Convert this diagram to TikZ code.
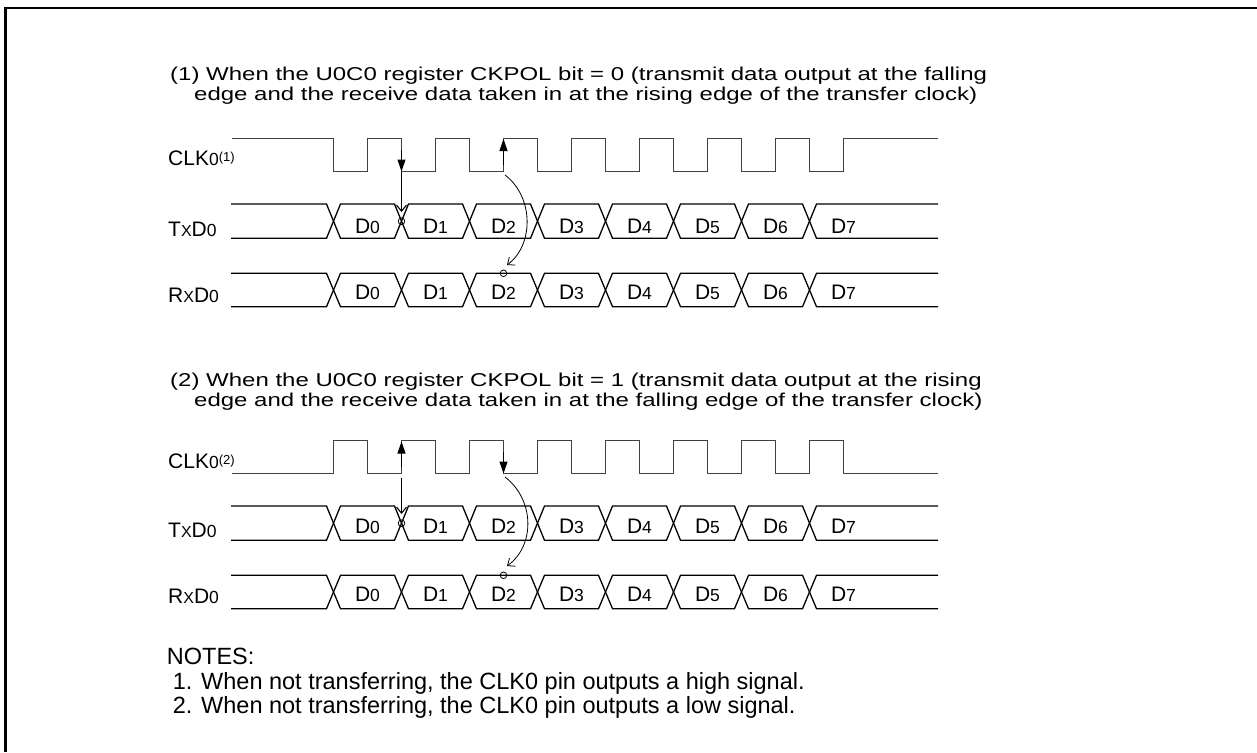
\documentclass[tikz,border=0pt]{standalone}
\usepackage{fontspec}
\setmainfont{Liberation Sans}
\usepackage{graphicx}
\usetikzlibrary{arrows.meta}
\newcommand{\myLf}{\fontsize{21pt}{21pt}\selectfont}
\newcommand{\myHf}{\fontsize{18.6pt}{20pt}\selectfont}
\newcommand{\myNf}{\fontsize{23.5pt}{24pt}\selectfont}
\newcommand{\mySm}[1]{{\fontsize{17.5pt}{17.5pt}\selectfont #1}}
\newcommand{\myD}[1]{D\mySm{#1}}
\newcommand{\mySig}[1]{#1{\fontsize{16pt}{16pt}\selectfont X}D\mySm{0}}
\newcommand{\myClk}[1]{CLK\mySm{0}\raisebox{4pt}{\fontsize{13pt}{13pt}\selectfont (#1)}}
\newcommand{\myHd}[1]{\scalebox{1.29}[1]{#1}}
\begin{document}
\begin{tikzpicture}[x=1pt,y=-1pt,
  clk/.style={line width=1pt,black!75},
  bus/.style={line width=1.3pt,line join=miter},
  farrow/.style={line width=1pt,-{Triangle[length=12pt,width=8pt]}},
  tarrow/.style={line width=1.1pt,-{Straight Barb[length=6pt,width=10pt]}},
  carrow/.style={line width=0.8pt,-{Straight Barb[length=6pt,width=10pt]}},
  ring/.style={line width=0.8pt},
  lbl/.style={anchor=base west,inner sep=0pt,font=\myLf},
  dat/.style={anchor=base,inner sep=0pt,font=\myLf},
  hd/.style={anchor=base west,inner sep=0pt,font=\myHf},
  nt/.style={anchor=base west,inner sep=0pt,font=\myNf}]
\useasboundingbox (0,0) rectangle (1257,752);
% frame
\draw[line width=2.2pt] (5.5,752) -- (5.5,8.3) -- (1257,8.3);

% headings
\node[hd] (h1a) at (170,80) {\myHd{(1) When the U0C0 register CKPOL bit = 0 (transmit data output at the falling}};
\node[hd] (h1b) at (194,100.5) {\myHd{edge and the receive data taken in at the rising edge of the transfer clock)}};
\node[hd] (h2a) at (170,386) {\myHd{(2) When the U0C0 register CKPOL bit = 1 (transmit data output at the rising}};
\node[hd] (h2b) at (194,406) {\myHd{edge and the receive data taken in at the falling edge of the transfer clock)}};

% ---------- part 1 ----------
\begin{scope}
  \node[lbl] (clkA) at (168,165) {\myClk{1}};
  \node[lbl] (txA) at (168,236) {\mySig{T}};
  \node[lbl] (rxA) at (168,302) {\mySig{R}};
  \draw[clk] (232,138.3) \foreach \k in {0,...,7} { -- ({333.5+68*\k},138.3) -- ({333.5+68*\k},171.7) -- ({367.5+68*\k},171.7) -- ({367.5+68*\k},138.3) } -- (938,138.3);
  % TxD
  \draw[bus] (231,204) \foreach \k in {0,2,4,6} { -- ({326.5+68*\k},204) -- ({340.5+68*\k},238.3) -- ({394.5+68*\k},238.3) -- ({408.5+68*\k},204) } -- (938,204);
  \draw[bus] (231,238.3) \foreach \k in {0,2,4,6} { -- ({326.5+68*\k},238.3) -- ({340.5+68*\k},204) -- ({394.5+68*\k},204) -- ({408.5+68*\k},238.3) } -- (938,238.3);
  % RxD
  \draw[bus] (231,273.3) \foreach \k in {0,2,4,6} { -- ({326.5+68*\k},273.3) -- ({340.5+68*\k},306.7) -- ({394.5+68*\k},306.7) -- ({408.5+68*\k},273.3) } -- (938,273.3);
  \draw[bus] (231,306.7) \foreach \k in {0,2,4,6} { -- ({326.5+68*\k},306.7) -- ({340.5+68*\k},273.3) -- ({394.5+68*\k},273.3) -- ({408.5+68*\k},306.7) } -- (938,306.7);
  \foreach \k in {0,...,7} {
    \node[dat] (txA\k) at ({367.5+68*\k},233) {\myD{\k}};
    \node[dat] (rxA\k) at ({367.5+68*\k},299) {\myD{\k}};
  }
  % arrows
  \coordinate (fA1s) at (401.5,150);
  \coordinate (fA1e) at (401.5,171.5);
  \coordinate (tA1s) at (401.5,171.7);
  \coordinate (tA1e) at (401.5,212);
  \coordinate (fA2s) at (503.5,165);
  \coordinate (fA2e) at (503.5,139);
  \coordinate (cA1s) at (505,175);
  \coordinate (cA1e) at (507,265);
  \draw[farrow] (fA1s) -- (fA1e);
  \draw[tarrow] (tA1s) -- (tA1e);
  \draw[ring] (401.5,221.2) circle[radius=3.3];
  \draw[farrow] (fA2s) -- (fA2e);
  \draw[carrow] (cA1s) .. controls (534,197) and (534,245) .. (cA1e);
  \draw[ring] (503.5,273.3) circle[radius=3.3];
\end{scope}

% ---------- part 2 ----------
\begin{scope}[shift={(0,302)}]
  \node[lbl] (clkB) at (168,166) {\myClk{2}};
  \node[lbl] (txB) at (168,235) {\mySig{T}};
  \node[lbl] (rxB) at (168,301) {\mySig{R}};
  \draw[clk] (232,171.7) \foreach \k in {0,...,7} { -- ({333.5+68*\k},171.7) -- ({333.5+68*\k},138.3) -- ({367.5+68*\k},138.3) -- ({367.5+68*\k},171.7) } -- (938,171.7);
  % TxD
  \draw[bus] (231,204) \foreach \k in {0,2,4,6} { -- ({326.5+68*\k},204) -- ({340.5+68*\k},238.3) -- ({394.5+68*\k},238.3) -- ({408.5+68*\k},204) } -- (938,204);
  \draw[bus] (231,238.3) \foreach \k in {0,2,4,6} { -- ({326.5+68*\k},238.3) -- ({340.5+68*\k},204) -- ({394.5+68*\k},204) -- ({408.5+68*\k},238.3) } -- (938,238.3);
  % RxD
  \draw[bus] (231,273.3) \foreach \k in {0,2,4,6} { -- ({326.5+68*\k},273.3) -- ({340.5+68*\k},306.7) -- ({394.5+68*\k},306.7) -- ({408.5+68*\k},273.3) } -- (938,273.3);
  \draw[bus] (231,306.7) \foreach \k in {0,2,4,6} { -- ({326.5+68*\k},306.7) -- ({340.5+68*\k},273.3) -- ({394.5+68*\k},273.3) -- ({408.5+68*\k},306.7) } -- (938,306.7);
  \foreach \k in {0,...,7} {
    \node[dat] (txB\k) at ({367.5+68*\k},231) {\myD{\k}};
    \node[dat] (rxB\k) at ({367.5+68*\k},299) {\myD{\k}};
  }
  % arrows
  \coordinate (fB1s) at (401.5,165);
  \coordinate (fB1e) at (401.5,139.5);
  \coordinate (tB1s) at (401.5,176.3);
  \coordinate (tB1e) at (401.5,212);
  \coordinate (fB2s) at (503.5,150);
  \coordinate (fB2e) at (503.5,171.5);
  \coordinate (cB1s) at (505,175);
  \coordinate (cB1e) at (507,264);
  \draw[farrow] (fB1s) -- (fB1e);
  \draw[tarrow] (tB1s) -- (tB1e);
  \draw[ring] (401.5,221.2) circle[radius=3.3];
  \draw[farrow] (fB2s) -- (fB2e);
  \draw[carrow] (cB1s) .. controls (535,198) and (535,244) .. (cB1e);
  \draw[ring] (503.5,273.3) circle[radius=3.3];
\end{scope}

% notes
\node[nt] (n0) at (166.7,664) {NOTES:};
\node[nt] (n1) at (172.7,689) {1. When not transferring, the CLK0 pin outputs a high signal.};
\node[nt] (n2) at (172.7,713) {2. When not transferring, the CLK0 pin outputs a low signal.};
\end{tikzpicture}
\end{document}
